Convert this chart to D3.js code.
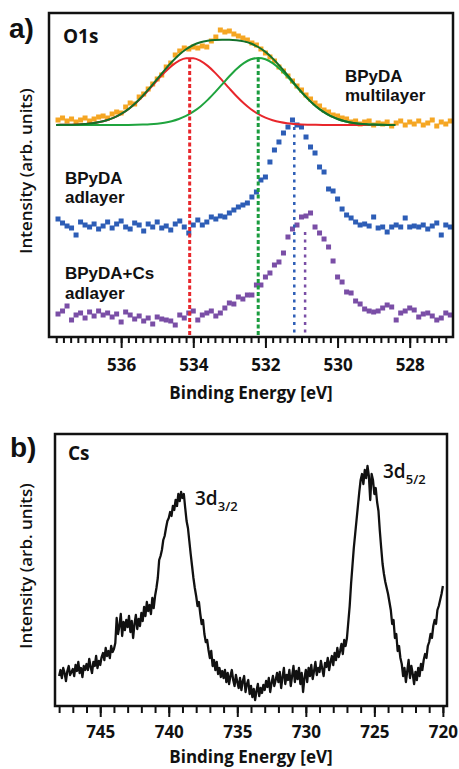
<!DOCTYPE html>
<html>
<head>
<meta charset="utf-8">
<script src="https://cdn.jsdelivr.net/npm/d3@7"></script>
<style>
  body { margin: 0; background: #fff; }
  text { font-family: "Open Sans", Arial, sans-serif; fill: #111; }
</style>
</head>
<body>
<svg id="chart" width="459" height="769"></svg>
<script>
// ---- panel a) O1s : scans start at 537.75 eV, step 0.125 eV ----
var scanStart = 537.75, scanStep = 0.125;
var multilayer = [
  217, 219, 216, 218, 215, 217, 219, 216,
  218, 220, 221, 219, 223, 225, 224, 230,
  234, 233, 240, 243, 248, 253, 258, 262,
  270, 274, 282, 286, 289, 288, 290, 289,
  291, 290, 296, 300, 307, 305, 306, 303,
  301, 299, 297, 294, 292, 288, 284, 280,
  276, 270, 266, 261, 256, 251, 247, 242,
  238, 234, 231, 227, 225, 222, 221, 219,
  218, 215, 216, 213, 215, 216, 212, 214,
  213, 215, 211, 214, 216, 212, 215, 213,
  216, 212, 214, 217, 211, 215, 213, 216
];
var adlayer = [
  118, 114, 111, 109, 102, 115, 112, 110,
  113, 108, 111, 115, 109, 113, 116, 110,
  108, 114, 112, 106, 113, 110, 115, 109,
  111, 107, 113, 116, 110, 104, 112, 117,
  112, 115, 120, 118, 121, 120, 124, 127,
  130, 132, 134, 140, 145, 157, 160, 175,
  187, 195, 204, 210, 217, 212, 210, 200,
  190, 184, 170, 165, 148, 146, 138, 128,
  122, 119, 115, 112, 113, 111, 120, 109,
  110, 105, 110, 112, 110, 119, 110, 111,
  110, 112, 108, 111, 114, 102, 112, 110
];
var csAdlayer = [
  23, 26, 31, 17, 22, 24, 19, 25,
  21, 26, 22, 24, 20, 23, 15, 25,
  22, 18, 21, 16, 19, 13, 20, 18,
  17, 16, 12, 22, 19, 24, 26, 17,
  22, 24, 26, 21, 24, 29, 34, 33,
  40, 38, 42, 42, 52, 52, 60, 64,
  72, 75, 84, 100, 108, 112, 120, 121,
  124, 110, 104, 98, 90, 76, 60, 55,
  45, 44, 36, 33, 28, 26, 25, 26,
  29, 32, 30, 17, 24, 26, 29, 27,
  20, 23, 24, 21, 17, 19, 24, 22
];

// fit curves: 537.8 eV down to 528.4 eV, step 0.2 eV, above fit baseline
var fitStart = 537.8, fitStep = 0.2, fitBaseline = 212;
var fitRed = [
  0.1, 0.2, 0.3, 0.5, 1.0, 1.7, 2.9, 4.8, 7.4, 11.0,
  15.8, 21.8, 28.8, 36.6, 44.7, 52.4, 59.1, 64.1, 66.7, 66.7,
  64.1, 59.1, 52.4, 44.7, 36.6, 28.8, 21.8, 15.8, 11.0, 7.4,
  4.8, 2.9, 1.7, 1.0, 0.5, 0.3, 0.2, 0.1, 0, 0,
  0, 0, 0, 0, 0, 0, 0, 0
];
var fitGreen = [
  0, 0, 0, 0, 0, 0, 0, 0, 0, 0.1,
  0.1, 0.2, 0.4, 0.7, 1.3, 2.3, 3.8, 6.0, 9.1, 13.3,
  18.6, 25.1, 32.6, 40.6, 48.7, 56.0, 61.8, 65.7, 67.0, 65.7,
  61.8, 56.0, 48.7, 40.6, 32.6, 25.1, 18.6, 13.3, 9.1, 6.0,
  3.8, 2.3, 1.3, 0.7, 0.4, 0.2, 0.1, 0
];
var fitSum = [
  0.1, 0.2, 0.3, 0.5, 1.0, 1.7, 2.9, 4.8, 7.4, 11.1,
  15.9, 22.0, 29.2, 37.3, 46.0, 54.7, 62.9, 70.1, 75.8, 80.0,
  82.7, 84.2, 85.0, 85.3, 85.3, 84.8, 83.6, 81.5, 78.0, 73.1,
  66.6, 58.9, 50.4, 41.6, 33.1, 25.4, 18.8, 13.4, 9.1, 6.0,
  3.8, 2.3, 1.3, 0.7, 0.4, 0.2, 0.1, 0
];

// peak markers: energy and the intensity where the line starts
var peakEnergy = [534.1, 532.2, 531.2, 530.9];
var peakTop = [279, 279, 210, 105];
var peakColor = ["#e8262b", "#1a9c3e", "#2d5db6", "#7a4ea6"];

var ticksA = [536, 534, 532, 530, 528];

// ---- panel b) Cs 3d : 748.0 eV down to 720.0 eV, step 0.1 eV ----
var csStart = 748.0, csStep = 0.1;
var cs3d = [
  30, 36, 28, 38, 33, 25, 35, 40, 31, 34,
  37, 30, 41, 35, 44, 33, 38, 29, 40, 36,
  42, 36, 47, 39, 33, 44, 40, 50, 38, 45,
  41, 49, 53, 46, 58, 50, 55, 48, 60, 54,
  57, 63, 88, 72, 80, 92, 70, 84, 76, 86,
  79, 90, 74, 85, 68, 82, 91, 77, 87, 80,
  93, 85, 99, 90, 104, 95, 101, 92, 108, 98,
  110, 118, 128, 146, 150, 156, 166, 170, 178, 185,
  188, 194, 190, 200, 196, 206, 200, 212, 205, 214,
  208, 212, 198, 185, 178, 165, 152, 140, 128, 118,
  110, 100, 104, 92, 82, 86, 72, 64, 66, 56,
  48, 55, 40, 46, 36, 44, 32, 38, 29, 35,
  28, 36, 24, 33, 22, 30, 36, 26, 20, 31,
  24, 18, 28, 16, 25, 30, 14, 22, 26, 12,
  20, 9, 17, 6, 15, 22, 10, 18, 13, 21,
  16, 25, 19, 28, 14, 23, 30, 20, 26, 33,
  24, 34, 18, 29, 38, 22, 31, 26, 36, 20,
  30, 40, 24, 35, 27, 38, 22, 33, 14, 28,
  36, 24, 38, 30, 41, 27, 35, 44, 31, 38,
  34, 45, 37, 30, 43, 39, 48, 36, 44, 50,
  41, 53, 46, 58, 49, 55, 62, 52, 66, 60,
  68, 84, 100, 122, 140, 158, 172, 186, 200, 214,
  226, 232, 222, 236, 228, 240, 230, 206, 232, 226,
  212, 218, 204, 195, 175, 158, 142, 132, 124, 118,
  112, 104, 96, 82, 86, 68, 72, 55, 60, 48,
  42, 30, 38, 24, 35, 46, 28, 40, 32, 22,
  34, 26, 38, 30, 42, 36, 46, 52, 48, 60,
  64, 72, 68, 80, 86, 82, 96, 100, 106, 112,
  120
];
var ticksB = [745, 740, 735, 730, 725, 720];

var svg = d3.select("#chart");

function toPoints(start, step, values){
  return values.map(function(v, i){ return {e: start - step*i, v: v}; });
}

// ================= panel a =================
var xA = d3.scaleLinear().domain([538, 526.8]).range([49, 453]);
var yA = d3.scaleLinear().domain([0, 324]).range([337, 13]);

function drawSquares(values, color){
  svg.append("g").selectAll("rect")
    .data(toPoints(scanStart, scanStep, values))
    .enter().append("rect")
      .attr("x", function(d){ return xA(d.e) - 2.5; })
      .attr("y", function(d){ return yA(d.v) - 2.5; })
      .attr("width", 5)
      .attr("height", 5)
      .attr("fill", color);
}
drawSquares(multilayer, "#f5a623");
drawSquares(adlayer, "#2d5db6");
drawSquares(csAdlayer, "#7a4ea6");

var fitLine = d3.line()
  .x(function(d){ return xA(d.e); })
  .y(function(d){ return yA(fitBaseline + d.v); })
  .curve(d3.curveMonotoneX);

[[fitRed, "#e8262b"], [fitGreen, "#1fa43e"], [fitSum, "#13702a"]].forEach(function(f){
  svg.append("path")
    .datum(toPoints(fitStart, fitStep, f[0]))
    .attr("d", fitLine)
    .attr("fill", "none")
    .attr("stroke", f[1])
    .attr("stroke-width", 2);
});

// vertical peak markers
peakEnergy.forEach(function(e, i){
  svg.append("line")
    .attr("x1", xA(e)).attr("x2", xA(e))
    .attr("y1", yA(peakTop[i])).attr("y2", yA(0))
    .attr("stroke", peakColor[i])
    .attr("stroke-width", i < 2 ? 3 : 2.5)
    .attr("stroke-dasharray", i < 2 ? "4,2.5" : "3,4.5");
});

svg.append("rect")
  .attr("x", 49).attr("y", 13).attr("width", 404).attr("height", 324)
  .attr("fill", "none").attr("stroke", "#111").attr("stroke-width", 2.5);

var minorA = d3.range(0, 55).map(function(i){ return 537.8 - 0.2*i; });
var axMinorA = svg.append("g").attr("transform", "translate(0,337)")
  .call(d3.axisBottom(xA).tickValues(minorA).tickSize(6).tickFormat(""));
var axMajorA = svg.append("g").attr("transform", "translate(0,337)")
  .call(d3.axisBottom(xA).tickValues(ticksA).tickSize(11).tickPadding(11).tickFormat(d3.format("d")));

// ================= panel b =================
var xB = d3.scaleLinear().domain([748.3, 719.7]).range([55, 447]);
var yB = d3.scaleLinear().domain([0, 272]).range([706, 434]);

svg.append("path")
  .datum(toPoints(csStart, csStep, cs3d))
  .attr("d", d3.line().x(function(d){ return xB(d.e); }).y(function(d){ return yB(d.v); }))
  .attr("fill", "none")
  .attr("stroke", "#111")
  .attr("stroke-width", 2.3)
  .attr("stroke-linejoin", "round");

svg.append("rect")
  .attr("x", 55).attr("y", 434).attr("width", 392).attr("height", 272)
  .attr("fill", "none").attr("stroke", "#111").attr("stroke-width", 2.5);

var minorB = d3.range(748, 719.5, -1);
var axMinorB = svg.append("g").attr("transform", "translate(0,706)")
  .call(d3.axisBottom(xB).tickValues(minorB).tickSize(7).tickFormat(""));
var axMajorB = svg.append("g").attr("transform", "translate(0,706)")
  .call(d3.axisBottom(xB).tickValues(ticksB).tickSize(11).tickPadding(9).tickFormat(d3.format("d")));

// axis styling
[axMinorA, axMajorA, axMinorB, axMajorB].forEach(function(g){
  g.select(".domain").remove();
  g.selectAll(".tick line").attr("stroke", "#111").attr("stroke-width", 2);
  g.selectAll(".tick text")
    .attr("font-size", 17).attr("font-weight", 700)
    .attr("font-family", "'Open Sans', Arial, sans-serif").attr("fill", "#111");
});

// ================= texts =================
function label(x, y, txt, size, weight, anchor){
  return svg.append("text")
    .attr("x", x).attr("y", y)
    .attr("font-size", size)
    .attr("font-weight", weight || 400)
    .attr("text-anchor", anchor || "start")
    .text(txt);
}

label(9, 38, "a)", 28, 700).style("font-family", "Arial, 'Liberation Sans', sans-serif");
label(10, 457, "b)", 28, 700).style("font-family", "Arial, 'Liberation Sans', sans-serif");

label(63, 43, "O1s", 19, 700);
label(68, 460, "Cs", 19, 700);

// series names, in a tighter font so the two lines sit close
var seriesFont = "'Liberation Sans', Arial, sans-serif";
[[345, 82, "BPyDA"], [345, 101, "multilayer"],
 [65, 184, "BPyDA"], [65, 203, "adlayer"],
 [65, 279, "BPyDA+Cs"], [65, 299, "adlayer"]].forEach(function(s){
  label(s[0], s[1], s[2], 17, 700).style("font-family", seriesFont);
});

label(251, 399, "Binding Energy [eV]", 17, 700, "middle");
label(251, 763, "Binding Energy [eV]", 17, 700, "middle");

svg.append("text")
  .attr("transform", "translate(32,171) rotate(-90)")
  .attr("text-anchor", "middle").attr("font-size", 17).attr("font-weight", 600)
  .text("Intensity (arb. units)");
svg.append("text")
  .attr("transform", "translate(32,566) rotate(-90)")
  .attr("text-anchor", "middle").attr("font-size", 17).attr("font-weight", 600)
  .text("Intensity (arb. units)");

function peakLabel(x, y, sub){
  var t = svg.append("text").attr("x", x).attr("y", y)
    .attr("font-size", 19).attr("font-weight", 600);
  t.append("tspan").text("3d");
  t.append("tspan").attr("dy", 6).attr("font-size", 13).text(sub);
}
peakLabel(195, 505, "3/2");
peakLabel(383, 478, "5/2");
</script>
</body>
</html>
